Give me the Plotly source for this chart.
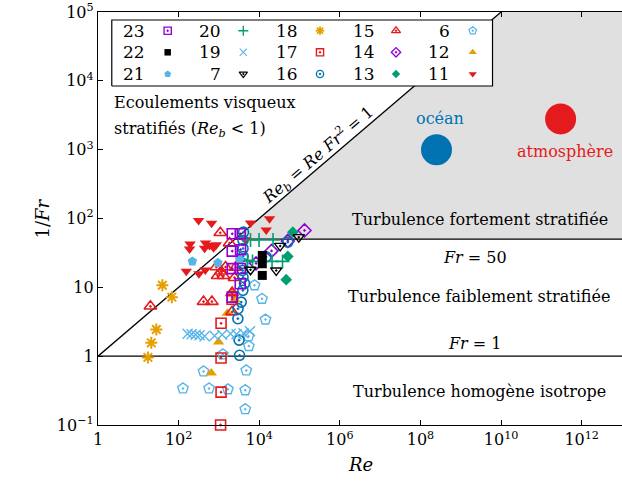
import numpy as np
import plotly.graph_objects as go

# ---- data: Reynolds number Re and inverse Froude number 1/Fr per dataset ----
re_23 = [2140, 3380, 2140, 3440, 2140, 3380, 3380, 2140]
fr_23 = [60, 60, 33.6, 35.2, 18.7, 18.8, 11.3, 7.2]

re_22 = [11900, 11900, 11900]
fr_22 = [29.1, 22.0, 14.9]

re_21 = [219, 942, 3250]
fr_21 = [23.8, 22.7, 25.5]

re_20 = [6080, 9890, 22000, 5130, 6820, 20800, 37800]
fr_20 = [48.8, 48.8, 48.8, 24.6, 23.8, 23.8, 23.8]

re_19 = [167, 210, 264, 331, 441, 780, 1200, 1940, 2740, 4080, 5910]
fr_19 = [2.12, 2.08, 2.05, 2.01, 1.95, 1.98, 2.05, 2.12, 2.08, 2.15, 2.3]

re_7 = [6080, 26400, 33100, 95800]
fr_7 = [18.0, 17.6, 40.0, 53.6]

re_18 = [17.3, 21, 28, 39.5, 68]
fr_18 = [0.96, 1.56, 2.44, 10.7, 7.2]

re_17 = [1100, 1130, 1130, 1130, 2120]
fr_17 = [0.1, 0.3, 0.94, 3.0, 6.7]

re_16 = [4080, 3970, 3970, 3970, 3860, 3860, 3970, 4320, 3930, 3580, 2980, 2950,
         3160, 3250, 14800, 51200]
fr_16 = [63.3, 48, 36.7, 28.1, 22.3, 17.6, 14, 11.4, 9.05, 6.1, 4.9, 3.5,
         1.71, 1.03, 27.7, 45.4]

re_15 = [20, 415, 669, 1080, 1840, 860, 1460, 2590, 926, 1300, 1130, 2440, 2120, 2120]
fr_15 = [5.3, 6.2, 6.2, 62, 43.9, 19.7, 19.7, 19.5, 14.7, 14.7, 17.1, 13.8, 8.3, 4.4]

re_14 = [8340, 20200, 51200, 133000]
fr_14 = [22.3, 33.8, 47.2, 67]

re_13 = [46700, 51200, 68000]
fr_13 = [12.9, 28.1, 63.3]

re_6 = [7650, 11700, 14300, 5430, 5520, 1250, 415, 4760, 128, 570, 1670, 4500, 4500]
fr_6 = [10.7, 6.8, 3.4, 1.95, 1.40, 1.06, 0.60, 0.62, 0.34, 0.34, 0.33, 0.32, 0.17]

re_12 = [2140, 2510, 1610, 980, 646]
fr_12 = [8.9, 6.6, 4.2, 1.6, 0.57]

re_11 = [313, 658, 6080, 18000, 14900, 4580, 193, 187, 467, 441, 587, 736, 860,
         155, 319, 459]
fr_11 = [93.5, 85, 86, 99, 68, 49, 42.7, 35.9, 43.9, 37.1, 40.6, 37.6, 41.6,
         17.1, 15.8, 17.8]

# geophysical flows
re_ocean, fr_ocean = [2.5e8], [1.0e3]
re_atmo, fr_atmo = [3.0e11], [2.8e3]

# regime boundaries
fr_strong = 50.0          # Fr = 50
fr_weak = 1.0             # Fr = 1
re_max = 1e13
invfr_max = 1e5

x_tickvals = [1, 1e2, 1e4, 1e6, 1e8, 1e10, 1e12]
x_ticktext = ["1", "10<sup>2</sup>", "10<sup>4</sup>", "10<sup>6</sup>",
              "10<sup>8</sup>", "10<sup>10</sup>", "10<sup>12</sup>"]
y_tickvals = [0.1, 1, 10, 1e2, 1e3, 1e4, 1e5]
y_ticktext = ["10<sup>\u22121</sup>", "1", "10", "10<sup>2</sup>",
              "10<sup>3</sup>", "10<sup>4</sup>", "10<sup>5</sup>"]

# ---- styles ----
RED = "#e41a1c"
ORANGE = "#e69f00"
SKY = "#56b4e9"
GREEN = "#009e73"
BLUE = "#0072b2"
PURPLE = "#9400d3"
FONT = "DejaVu Serif"

datasets = {
    "23": (re_23, fr_23, "square-open-dot", PURPLE, 10, 1.6),
    "22": (re_22, fr_22, "square", "black", 9, 0),
    "21": (re_21, fr_21, "pentagon", SKY, 10, 0),
    "20": (re_20, fr_20, "cross-thin-open", GREEN, 10, 1.6),
    "19": (re_19, fr_19, "x-thin-open", SKY, 10, 1.3),
    "7": (re_7, fr_7, "triangle-down-open-dot", "black", 10, 1.4),
    "18": (re_18, fr_18, "asterisk-open", ORANGE, 10, 2.0),
    "17": (re_17, fr_17, "square-open-dot", RED, 10, 1.6),
    "16": (re_16, fr_16, "circle-open-dot", BLUE, 10, 1.6),
    "15": (re_15, fr_15, "triangle-up-open-dot", RED, 11, 1.6),
    "14": (re_14, fr_14, "diamond-open-dot", PURPLE, 10, 1.6),
    "13": (re_13, fr_13, "diamond", GREEN, 9, 0),
    "6": (re_6, fr_6, "pentagon-open-dot", SKY, 11, 1.4),
    "12": (re_12, fr_12, "triangle-up", ORANGE, 10, 0),
    "11": (re_11, fr_11, "triangle-down", RED, 10, 0),
}
draw_order = ["6", "11", "12", "13", "14", "15", "16", "17", "18", "19",
              "20", "21", "22", "23", "7"]
legend_cols = [["23", "22", "21"], ["20", "19", "7"], ["18", "17", "16"],
               ["15", "14", "13"], ["6", "12", "11"]]

fig = go.Figure()

# strongly stratified turbulence region: Re_b > 1 and 1/Fr > 50
re_corner = fr_strong ** 2
re_top = invfr_max ** 2
fig.add_trace(go.Scatter(
    x=[re_corner, re_top, re_max, re_max, re_corner],
    y=[fr_strong, invfr_max, invfr_max, fr_strong, fr_strong],
    mode="lines", fill="toself", fillcolor="#e0e0e0",
    line=dict(width=0), hoverinfo="skip", showlegend=False))

# Re_b = Re Fr^2 = 1  ->  1/Fr = sqrt(Re)
re_line = np.array([1.0, re_top])
fig.add_trace(go.Scatter(x=re_line, y=np.sqrt(re_line), mode="lines",
                         line=dict(color="black", width=1.3), showlegend=False))
fig.add_trace(go.Scatter(x=[1, re_max], y=[fr_weak, fr_weak], mode="lines",
                         line=dict(color="black", width=1.3), showlegend=False))
fig.add_trace(go.Scatter(x=[re_corner, re_max], y=[fr_strong, fr_strong], mode="lines",
                         line=dict(color="black", width=1.3), showlegend=False))

fig.add_trace(go.Scatter(x=re_ocean, y=fr_ocean, mode="markers", showlegend=False,
                         marker=dict(color=BLUE, size=31, line=dict(width=0))))
fig.add_trace(go.Scatter(x=re_atmo, y=fr_atmo, mode="markers", showlegend=False,
                         marker=dict(color=RED, size=31, line=dict(width=0))))

for key in draw_order:
    xs, ys, sym, col, sz, lw = datasets[key]
    fig.add_trace(go.Scatter(
        x=xs, y=ys, mode="markers", name=key, showlegend=False, cliponaxis=False,
        marker=dict(symbol=sym, color=col, size=sz, line=dict(color=col, width=lw))))

# ---- legend box drawn on an overlay axis spanning the plot area ----
box_x0, box_x1, box_y0, box_y1 = 0.0263, 0.7529, 0.8208, 0.9806
fig.add_trace(go.Scatter(
    x=[box_x0, box_x1, box_x1, box_x0, box_x0],
    y=[box_y0, box_y0, box_y1, box_y1, box_y0],
    xaxis="x2", yaxis="y2", mode="lines", fill="toself", fillcolor="white",
    line=dict(color="black", width=1.2), hoverinfo="skip", showlegend=False))

row_y = [0.9547, 0.9024, 0.8499]
label_x = [0.0929, 0.2391, 0.3855, 0.5315, 0.6750]
mark_x = [0.1330, 0.2773, 0.4237, 0.5687, 0.7151]
annotations = []
for ci, col_keys in enumerate(legend_cols):
    for ri, key in enumerate(col_keys):
        _, _, sym, col, sz, lw = datasets[key]
        fig.add_trace(go.Scatter(
            x=[mark_x[ci]], y=[row_y[ri]], xaxis="x2", yaxis="y2", mode="markers",
            showlegend=False, hoverinfo="skip",
            marker=dict(symbol=sym, color=col, size=sz * 0.72,
                        line=dict(color=col, width=lw * 0.85))))
        annotations.append(dict(
            x=label_x[ci], y=row_y[ri], xref="x2", yref="y2", text=key,
            showarrow=False, xanchor="right", yanchor="middle",
            font=dict(size=17, color="black", family=FONT)))

# ---- region labels ----
def lab(x, y, text, color="black", size=16, **kw):
    d = dict(x=x, y=y, xref="x", yref="y", text=text, showarrow=False,
             font=dict(size=size, color=color, family=FONT))
    d.update(kw)
    annotations.append(d)

lab(0.34, 3.68, "Ecoulements visqueux", xanchor="left")
lab(0.34, 3.29, "stratifiés (<i>Re<sub>b</sub></i> < 1)", xanchor="left")
lab(8.49, 3.45, "océan", color=BLUE)
lab(11.59, 2.97, "atmosphère", color=RED)
lab(5.47, 2.93, "<i>Re<sub>b</sub></i> = <i>Re Fr</i><sup>2</sup> = 1", textangle=-40.5)
lab(9.47, 1.99, "Turbulence fortement stratifiée")
lab(9.35, 1.44, "<i>Fr</i> = 50")
lab(9.44, 0.86, "Turbulence faiblement stratifiée")
lab(9.35, 0.19, "<i>Fr</i> = 1")
lab(9.47, -0.51, "Turbulence homogène isotrope")

annotations.append(dict(x=-0.13, y=0.501, xref="paper", yref="paper",
                        text="1/<i>Fr</i>", textangle=-90, showarrow=False,
                        font=dict(size=18, family=FONT, color="black")))
annotations.append(dict(x=0.5, y=-0.126, xref="paper", yref="paper",
                        text="<i>Re</i>", showarrow=False,
                        font=dict(size=18, family=FONT, color="black")))

axis_common = dict(showgrid=False, zeroline=False, showline=True, linecolor="black",
                   linewidth=1.3, ticks="inside", ticklen=5, tickcolor="black",
                   tickwidth=1, tickfont=dict(size=16, family=FONT, color="black"))

fig.update_layout(
    width=622, height=496,
    margin=dict(l=98, r=0, t=12, b=71),
    paper_bgcolor="white", plot_bgcolor="white",
    font=dict(family=FONT, color="black"),
    xaxis=dict(type="log", range=[0, 13], tickvals=x_tickvals, ticktext=x_ticktext,
               mirror="ticks", **axis_common),
    yaxis=dict(type="log", range=[-1, 5], tickvals=y_tickvals, ticktext=y_ticktext,
               **axis_common),
    xaxis2=dict(overlaying="x", range=[0, 1], visible=False, fixedrange=True,
                anchor="y2"),
    yaxis2=dict(overlaying="y", range=[0, 1], visible=False, fixedrange=True,
                anchor="x2"),
    annotations=annotations,
    showlegend=False,
)

fig.write_html("out.html")
